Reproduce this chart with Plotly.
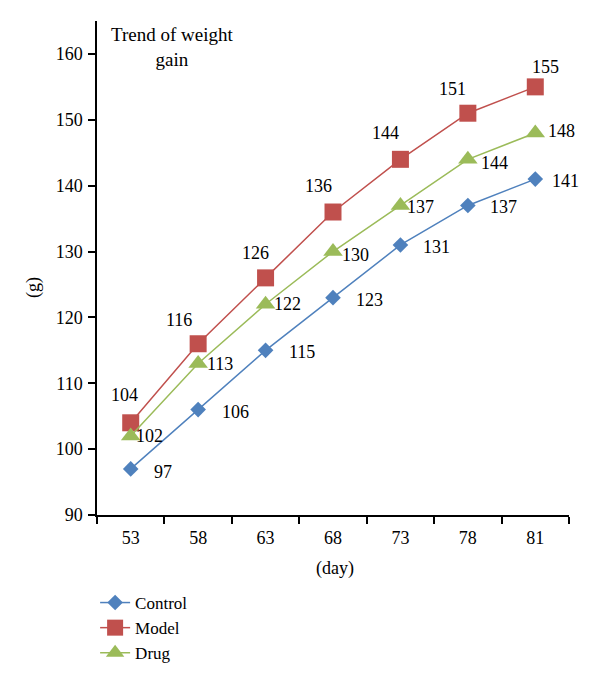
import plotly.graph_objects as go

days = ["53", "58", "63", "68", "73", "78", "81"]
control = [97, 106, 115, 123, 131, 137, 141]
model = [104, 116, 126, 136, 144, 151, 155]
drug = [102, 113, 122, 130, 137, 144, 148]
y_ticks = [90, 100, 110, 120, 130, 140, 150, 160]

FONT = "Liberation Serif"
BLUE = "#4F81BD"
RED = "#C0504D"
GREEN = "#9BBB59"
FS = 18

fig = go.Figure()
series = [
    ("Control", control, BLUE, "diamond", 12),
    ("Model", model, RED, "square", 17),
    ("Drug", drug, GREEN, "triangle-up", 17),
]
for name, vals, col, sym, sz in series:
    fig.add_trace(go.Scatter(
        x=days, y=vals, name=name, mode="lines+markers",
        line=dict(color=col, width=1.5),
        marker=dict(symbol=sym, size=sz, color=col, line=dict(width=0)),
    ))

# label offsets (style): per series
label_style = {
    "Control": dict(xshift=[32, 37, 36, 36, 36, 36, 30], yshift=[-3, -2, -2, -2, -2, -2, -2]),
    "Model": dict(xshift=[-6, -19, -10, -15, -15, -15, 10], yshift=[28, 24, 25, 26, 26, 24, 20]),
    "Drug": dict(xshift=[19, 22, 22, 22, 20, 27, 26], yshift=[0, 0, 0, -3, -2, -4, 2]),
}
for name, vals, col, sym, sz in series:
    st = label_style[name]
    for i, v in enumerate(vals):
        fig.add_annotation(
            x=i, y=v, text=str(v), showarrow=False,
            xshift=st["xshift"][i], yshift=st["yshift"][i],
            font=dict(family=FONT, size=FS, color="black"),
        )

fig.add_annotation(
    xref="paper", yref="paper", x=0.158, y=0.948, xanchor="center", yanchor="middle",
    text="Trend of weight<br>gain", showarrow=False, align="center",
    font=dict(family=FONT, size=19, color="black"),
)
fig.add_annotation(
    xref="paper", yref="paper", x=-0.1356, y=0.4615, xanchor="center", yanchor="middle",
    text="(g)", textangle=-90, showarrow=False,
    font=dict(family=FONT, size=FS, color="black"),
)
fig.add_annotation(
    xref="paper", yref="paper", x=0.504, y=-0.108, xanchor="center", yanchor="middle",
    text="(day)", showarrow=False,
    font=dict(family=FONT, size=FS, color="black"),
)

fig.update_layout(
    width=592, height=678,
    margin=dict(l=89, r=31, t=13, b=171),
    paper_bgcolor="white", plot_bgcolor="white",
    font=dict(family=FONT, size=FS, color="black"),
    showlegend=True,
    legend=dict(x=-0.004, xanchor="left", y=-0.1417, yanchor="top",
                font=dict(family=FONT, size=17), tracegroupgap=0,
                bgcolor="rgba(0,0,0,0)"),
)
fig.update_xaxes(
    type="category", categoryorder="array", categoryarray=days,
    range=[-0.5, len(days) - 0.5], autorange=False,
    tickson="boundaries", ticks="outside", ticklen=7, tickangle=0,
    ticklabelstandoff=6,
    tickcolor="black", tickwidth=1.5, showline=True, linecolor="black", linewidth=1.5,
    showgrid=False, zeroline=False,
    tickfont=dict(family=FONT, size=FS),
)
fig.update_yaxes(
    range=[90, 165], autorange=False, tickvals=y_ticks, ticks="outside", ticklen=7,
    ticklabelstandoff=2,
    tickcolor="black", tickwidth=1.5, showline=True, linecolor="black", linewidth=1.5,
    showgrid=False, zeroline=False,
    tickfont=dict(family=FONT, size=FS),
)

fig.write_html("out.html")
